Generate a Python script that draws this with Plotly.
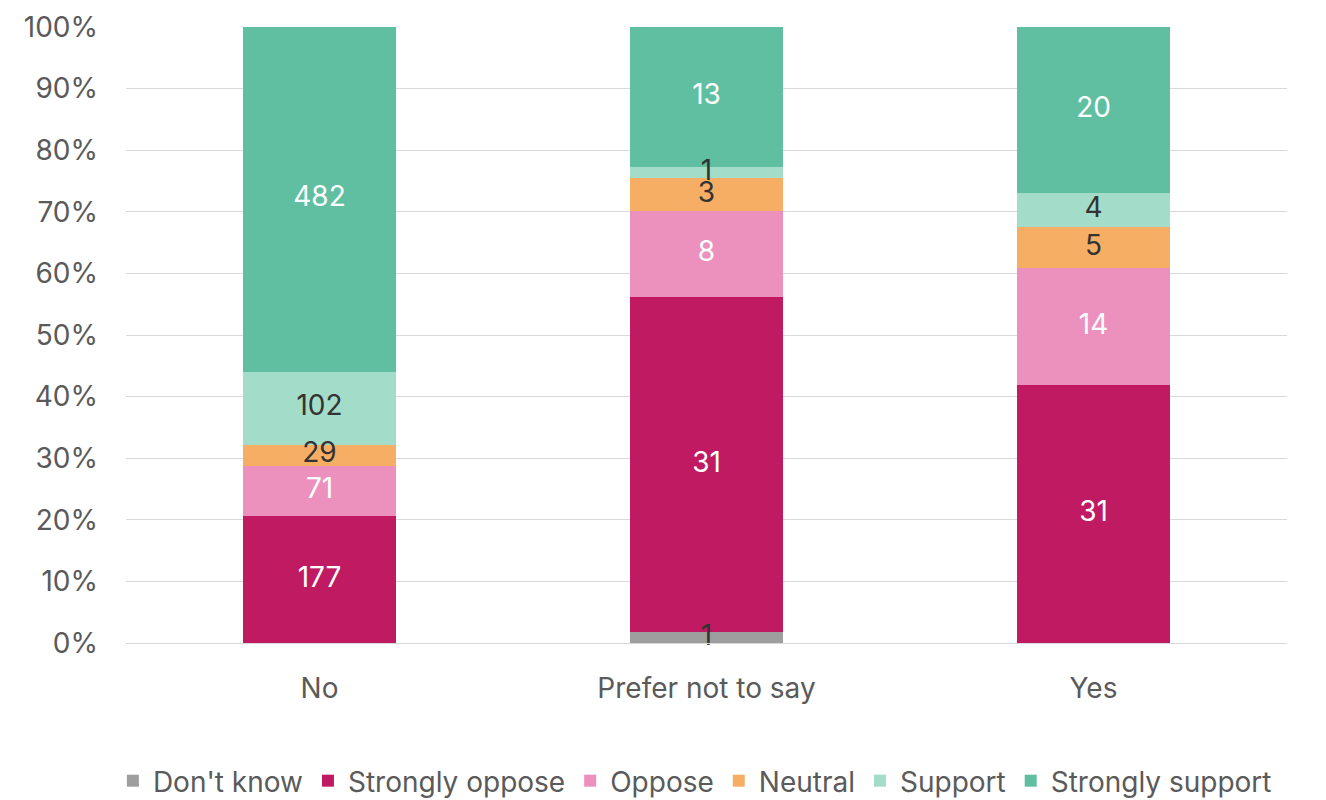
import plotly.graph_objects as go

categories = ["No", "Prefer not to say", "Yes"]
series_names = ["Don't know", "Strongly oppose", "Oppose", "Neutral", "Support", "Strongly support"]
dont_know = [0, 1, 0]
strongly_oppose = [177, 31, 31]
oppose = [71, 8, 14]
neutral = [29, 3, 5]
support = [102, 1, 4]
strongly_support = [482, 13, 20]

series_values = [dont_know, strongly_oppose, oppose, neutral, support, strongly_support]
colors = ["#9e9e9e", "#c01a62", "#ec91be", "#f6ae64", "#a3dcc8", "#5fbfa0"]
text_colors = ["#333333", "#ffffff", "#ffffff", "#333333", "#333333", "#ffffff"]

FONT = "Inter, Lato, sans-serif"
FS = 28

totals = [sum(s[i] for s in series_values) for i in range(len(categories))]

fig = go.Figure()
for name, vals, col in zip(series_names, series_values, colors):
    fig.add_trace(go.Bar(
        x=categories, y=vals, name=name,
        marker=dict(color=col, line=dict(width=0)),
    ))

# value labels drawn on top of all bars (so thin segments stay readable)
cum = [0.0] * len(categories)
for name, vals, tcol in zip(series_names, series_values, text_colors):
    xs, ys, ts = [], [], []
    for i, v in enumerate(vals):
        pct = 100.0 * v / totals[i]
        if v:
            xs.append(categories[i])
            ys.append(cum[i] + pct / 2)
            ts.append(str(v))
        cum[i] += pct
    fig.add_trace(go.Scatter(
        x=xs, y=ys, text=ts, mode="text", showlegend=False, hoverinfo="skip",
        textfont=dict(color=tcol, size=FS, family=FONT), cliponaxis=False,
    ))

fig.update_layout(
    barmode="stack", barnorm="percent", bargap=0.605,
    width=1318, height=792,
    margin=dict(l=118, r=39, t=19, b=157, autoexpand=False),
    plot_bgcolor="white", paper_bgcolor="white",
    font=dict(family=FONT, size=FS, color="#5a5a5a"),
    legend=dict(orientation="h", traceorder="normal", x=0.49, xanchor="center",
                y=-0.224, yanchor="middle",
                font=dict(size=FS, color="#5a5a5a"), itemwidth=30, tracegroupgap=0),
    showlegend=True,
)
fig.update_yaxes(range=[0, 100], dtick=10, ticksuffix="%", showgrid=True,
                 gridcolor="#d9d9d9", gridwidth=1, zeroline=False, automargin=False,
                 tickfont=dict(size=FS, color="#5a5a5a"), ticklabelstandoff=27)
fig.update_xaxes(showline=True, linecolor="#d9d9d9", linewidth=1, automargin=False,
                 tickfont=dict(size=FS, color="#5a5a5a"), ticklabelstandoff=20)

fig.write_html("out.html")
